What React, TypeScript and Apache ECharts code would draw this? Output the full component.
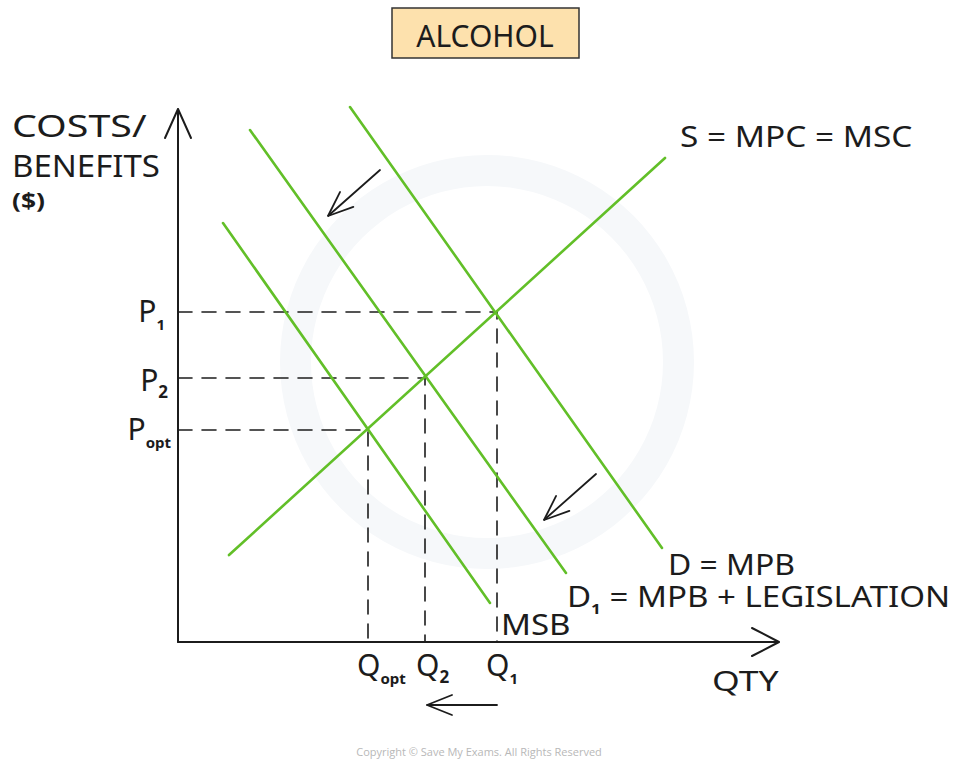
import React, { useEffect, useRef } from "react";
import * as echarts from "echarts";

// Data units: origin at the axes' crossing, one unit = one pixel on both axes
const X_MIN = -178;
const X_MAX = 775;
const Y_MIN = -118;
const Y_MAX = 642;

const quantities = [190, 247, 319]; // Qopt, Q2, Q1
const prices = [212, 264, 330]; // Popt, P2, P1
const supplyLine = [[51, 87], [487, 484]];
const demandLine = [[172, 535], [484, 94]];
const demand1Line = [[72, 512], [388, 69]];
const msbLine = [[45, 419], [312, 39]];
const shiftArrows = [
  [[202, 472], [150, 426]],
  [[418, 168], [366, 122]],
  [[319, -63], [249, -63]],
];
const xAxisEnd = 601;
const yAxisEnd = 533;

const GREEN = "#62bf28";
const INK = "#1c1c1c";
const FONT = "Noto Sans";

function chevron(from: number[], tip: number[], back: number, half: number) {
  const dx = tip[0] - from[0];
  const dy = tip[1] - from[1];
  const L = Math.hypot(dx, dy);
  const ux = dx / L, uy = dy / L;
  const px = -uy, py = ux;
  const bx = tip[0] - ux * back, by = tip[1] - uy * back;
  return [[bx + px * half, by + py * half], tip, [bx - px * half, by - py * half]];
}

function lineSeries(data: number[][], color: string, width: number, dashed = false) {
  return {
    type: "line",
    data,
    showSymbol: false,
    symbol: "none",
    silent: true,
    lineStyle: { color, width, type: dashed ? [14, 10] : "solid", cap: "round" },
    z: dashed ? 2 : 3,
  };
}

function txt(text: string, x: number, y: number, size: number, align = "left", scaleX = 1, extra: any = {}) {
  return {
    type: "text",
    x,
    y,
    scaleX,
    silent: true,
    z: 10,
    style: {
      text,
      fontSize: size,
      fontFamily: FONT,
      fill: INK,
      textAlign: align,
      textVerticalAlign: "middle",
      ...extra,
    },
  };
}

// base letter with a subscript, as one rich text
function subTxt(base: string, sub: string, x: number, y: number, size: number, subSize: number,
  align = "left", scaleX = 1, rest = "", lh = 42) {
  return {
    type: "text",
    x,
    y,
    scaleX,
    silent: true,
    z: 10,
    style: {
      text: `{b|${base}}{s|${sub}}` + (rest ? `{b|${rest}}` : ""),
      textAlign: align,
      textVerticalAlign: "middle",
      rich: {
        b: { fontSize: size, fontFamily: FONT, fill: INK, lineHeight: lh },
        s: {
          fontSize: subSize, fontFamily: FONT, fill: INK, fontWeight: "bold",
          lineHeight: subSize, verticalAlign: "bottom",
        },
      },
    },
  };
}

export default function App() {
  const ref = useRef<HTMLDivElement>(null);
  useEffect(() => {
    if (!ref.current) return;
    const chart = echarts.init(ref.current, null, { renderer: "svg" });
    const [qOpt, q2, q1] = quantities;
    const [pOpt, p2, p1] = prices;
    const series: any[] = [
      lineSeries([[0, p1], [q1, p1], [q1, 0]], INK, 1.6, true),
      lineSeries([[0, p2], [q2, p2], [q2, 0]], INK, 1.6, true),
      lineSeries([[0, pOpt], [qOpt, pOpt], [qOpt, 0]], INK, 1.6, true),
      lineSeries(supplyLine, GREEN, 2.6),
      lineSeries(demandLine, GREEN, 2.6),
      lineSeries(demand1Line, GREEN, 2.6),
      lineSeries(msbLine, GREEN, 2.6),
      lineSeries([[0, 0], [xAxisEnd, 0]], INK, 2),
      lineSeries([[0, 0], [0, yAxisEnd]], INK, 2),
      lineSeries(chevron([0, 0], [0, yAxisEnd], 29, 13), INK, 2),
      lineSeries(chevron([0, 0], [xAxisEnd, 0], 27, 14), INK, 2),
    ];
    shiftArrows.forEach(([from, tip]) => {
      series.push(lineSeries([from, tip], INK, 1.8));
      series.push(lineSeries(chevron(from, tip, 25, 10), INK, 1.8));
    });

    const graphic: any[] = [
      {
        type: "ring",
        shape: { cx: 487, cy: 362, r: 207, r0: 176 },
        style: { fill: "#f6f8fa" },
        silent: true,
        z: 0,
      },
      {
        type: "rect",
        shape: { x: 392, y: 8, width: 187, height: 50 },
        style: { fill: "#fde1ad", stroke: "#333333", lineWidth: 1.5 },
        silent: true,
        z: 9,
      },
      txt("ALCOHOL", 485, 35, 30, "center"),
      txt("COSTS/", 12, 125, 31, "left", 1.27),
      txt("BENEFITS", 12, 165, 30, "left", 1.1),
      txt("($)", 12, 199, 22, "left", 1.2, { fontWeight: "bold" }),
      txt("S = MPC = MSC", 680, 136, 29, "left", 1.15),
      txt("D = MPB", 668, 564, 29, "left", 1.1),
      subTxt("D", "1", 567, 596, 29, 15, "left", 1.14, " = MPB + LEGISLATION", 40),
      txt("MSB", 501, 624, 29, "left", 1.14),
      txt("QTY", 712, 680, 28, "left", 1.27),
      subTxt("P", "1", 165, 310, 30, 15, "right"),
      subTxt("P", "2", 168, 379, 30, 17, "right"),
      subTxt("P", "opt", 171, 428, 30, 15, "right"),
      subTxt("Q", "opt", 357, 664, 30, 15, "left"),
      subTxt("Q", "2", 416, 664, 30, 17, "left"),
      subTxt("Q", "1", 486, 664, 30, 15, "left"),
      txt("Copyright © Save My Exams. All Rights Reserved", 479, 751, 11, "center", 1, {
        fill: "#b8b8b8",
        fontFamily: "Open Sans",
      }),
    ];

    chart.setOption({
      animation: false,
      backgroundColor: "#ffffff",
      grid: { left: 0, right: 0, top: 0, bottom: 0 },
      xAxis: { type: "value", min: X_MIN, max: X_MAX, show: false },
      yAxis: { type: "value", min: Y_MIN, max: Y_MAX, show: false },
      series,
      graphic,
    });
    return () => chart.dispose();
  }, []);
  return (
    <div
      ref={ref}
      style={{ position: "absolute", left: 0, top: 0, width: 953, height: 760 }}
    />
  );
}
